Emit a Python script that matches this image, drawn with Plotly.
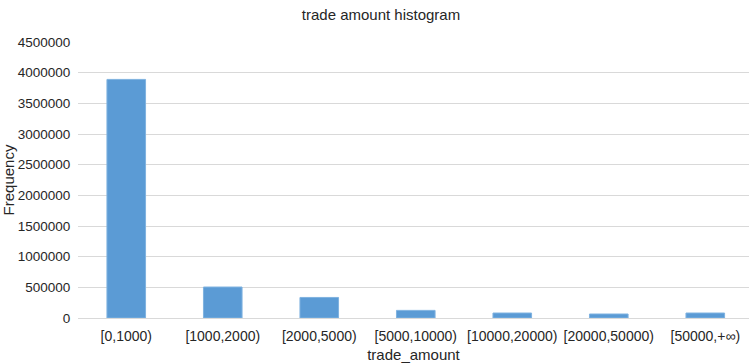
import plotly.graph_objects as go

categories = ["[0,1000)", "[1000,2000)", "[2000,5000)", "[5000,10000)",
              "[10000,20000)", "[20000,50000)", "[50000,+∞)"]
frequency = [3890000, 505000, 335000, 124000, 81000, 65000, 81000]
y_ticks = [0, 500000, 1000000, 1500000, 2000000, 2500000, 3000000,
           3500000, 4000000, 4500000]

fig = go.Figure()
fig.add_trace(go.Bar(
    x=categories, y=frequency,
    marker=dict(color="#5b9bd5", line=dict(color="#7fb2e0", width=1)),
))

font = "Liberation Sans, Arial, sans-serif"
fig.update_layout(
    width=749, height=364,
    margin=dict(l=78, r=0, t=42, b=46),
    paper_bgcolor="white", plot_bgcolor="white",
    bargap=0.6,
    showlegend=False,
    font=dict(family=font, size=13.5, color="#262626"),
    title=dict(text="trade amount histogram", x=381/749, xanchor="center",
               y=1 - 15/364, yanchor="middle",
               font=dict(family=font, size=15, color="#262626")),
    xaxis=dict(
        title=dict(text="trade_amount", standoff=6,
                   font=dict(family=font, size=15, color="#262626")),
        range=[-0.5, 6.453],
        showgrid=False, showline=False, ticks="outside", ticklen=5,
        tickcolor="white",
        tickfont=dict(size=14, color="#262626"),
    ),
    yaxis=dict(
        title=dict(text="Frequency", standoff=6,
                   font=dict(family=font, size=15, color="#262626")),
        range=[0, 4500000], tickvals=y_ticks,
        ticktext=[str(v) for v in y_ticks],
        showgrid=True, gridcolor="#d9d9d9", gridwidth=1,
        zeroline=True, zerolinecolor="#d9d9d9", zerolinewidth=1,
        showline=False, ticks="outside", ticklen=4, tickcolor="white",
        tickfont=dict(size=13.5, color="#262626"),
    ),
)

fig.write_html("out.html",
               config={"displayModeBar": False},
               post_script="document.body.style.margin='0';")
